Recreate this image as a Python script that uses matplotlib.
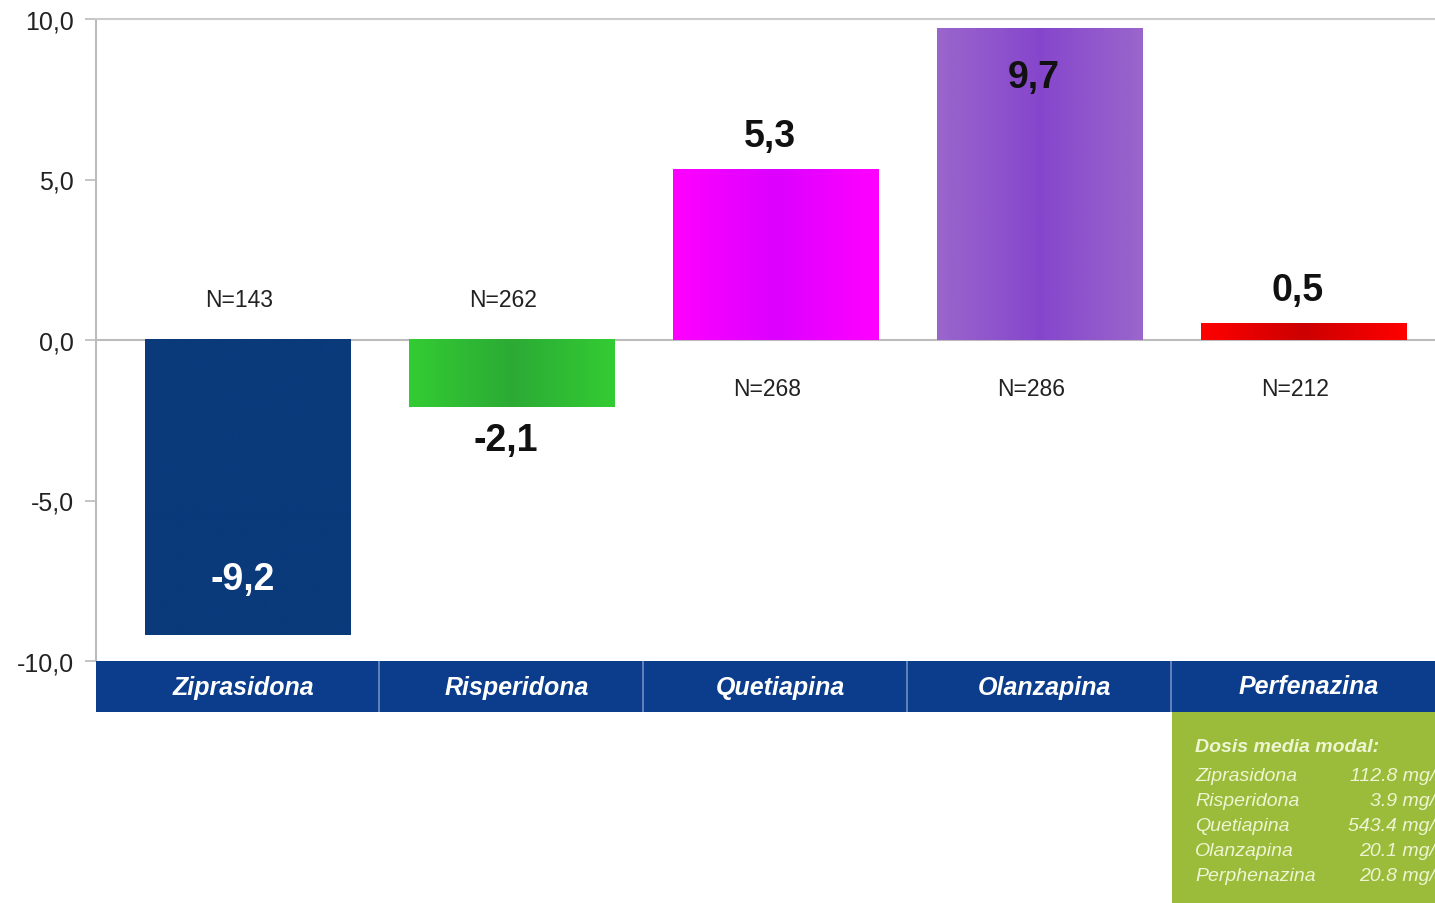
import numpy as np
import matplotlib
matplotlib.use('Agg')
import matplotlib.pyplot as plt
from matplotlib.colors import LinearSegmentedColormap
from matplotlib.patches import Rectangle

plt.rcParams['font.family'] = ['Liberation Sans', 'DejaVu Sans']

# cambio medio de peso por fármaco
farmacos = ['Ziprasidona', 'Risperidona', 'Quetiapina', 'Olanzapina', 'Perfenazina']
valores = [-9.2, -2.1, 5.3, 9.7, 0.5]
n_pacientes = [143, 262, 268, 286, 212]
etiquetas = ['-9,2', '-2,1', '5,3', '9,7', '0,5']

# dosis media modal (texto del recuadro)
dosis_farmacos = ['Ziprasidona', 'Risperidona', 'Quetiapina', 'Olanzapina', 'Perphenazina']
dosis_valores = ['112.8 mg/d', '3.9 mg/d', '543.4 mg/d', '20.1 mg/d', '20.8 mg/d']

y_ticks = [-10, -5, 0, 5, 10]
y_tick_labels = ['-10,0', '-5,0', '0,0', '5,0', '10,0']

# colores: (borde, centro) para el degradado horizontal
colores = [('#0a3a7a', '#0a3a7a'),
           ('#33cc33', '#2caa35'),
           ('#ff00ff', '#dc00ff'),
           ('#9a66cc', '#8646cc'),
           ('#ff0000', '#cc0000')]

W, H = 1435, 904
fig = plt.figure(figsize=(W / 100, H / 100), dpi=100)
fig.patch.set_facecolor('white')

# ejes: izquierda en x=96, arriba y=20, abajo y=662 (pixeles)
ax = fig.add_axes([96 / W, 1 - 662 / H, (W - 96) / W, (662 - 20) / H])
ax.set_xlim(-0.574, 4.5)
ax.set_ylim(-10, 10)

ancho = 0.777
x = np.arange(len(farmacos))
barras = ax.bar(x, valores, width=ancho, color='none', edgecolor='none', zorder=3)

for i, (b, (c_borde, c_centro)) in enumerate(zip(barras, colores)):
    cmap = LinearSegmentedColormap.from_list('g%d' % i, [c_borde, c_centro, c_borde])
    grad = np.linspace(0, 1, 256).reshape(1, -1)
    x0 = b.get_x()
    y0, y1 = sorted([0, b.get_height()])
    ax.imshow(grad, cmap=cmap, aspect='auto', extent=(x0, x0 + b.get_width(), y0, y1),
              zorder=3, interpolation='bicubic')

# etiquetas de valor
pos_valor = [v + 1.75 if v < -5 else (v - 1.5 if v > 8 else (v + 1.05 if v > 0 else v - 1.0))
             for v in valores]
for i, (v, t, p) in enumerate(zip(valores, etiquetas, pos_valor)):
    color = 'white' if v < -5 else '#111111'
    ax.text(x[i] - 0.02, p, t, ha='center', va='center', fontsize=27, fontweight='bold',
            color=color, zorder=5)

# etiquetas N
for i, (v, n) in enumerate(zip(valores, n_pacientes)):
    p = 1.25 if v < 0 else -1.5
    ax.text(x[i] - 0.03, p, 'N=%d' % n, ha='center', va='center', fontsize=16.5,
            color='#222222', zorder=5)

ax.axhline(0, color='#bbbbbb', lw=1.5, zorder=2)
for s in ['right', 'bottom']:
    ax.spines[s].set_visible(False)
ax.spines['left'].set_color('#bbbbbb')
ax.spines['left'].set_linewidth(1.5)
ax.spines['top'].set_color('#cccccc')
ax.spines['top'].set_linewidth(1.5)

ax.set_yticks(y_ticks)
ax.set_yticklabels(y_tick_labels, fontsize=18, color='#222222')
ax.tick_params(axis='y', length=8, width=1.2, color='#bbbbbb', pad=8)
ax.set_xticks([])

# banda azul con los nombres de los fármacos
banda = fig.add_axes([96 / W, 1 - 713 / H, (W - 96) / W, 51 / H])
banda.set_xlim(ax.get_xlim())
banda.set_ylim(0, 1)
banda.set_facecolor('#0b3d8c')
for s in banda.spines.values():
    s.set_visible(False)
banda.set_xticks([])
banda.set_yticks([])
limites = [ax.get_xlim()[0]] + [i + 0.5 for i in range(len(farmacos) - 1)] + [ax.get_xlim()[1]]
for i in range(len(farmacos) - 1):
    banda.axvline(limites[i + 1], color='#6f8fc4', lw=1.2)
for i, f in enumerate(farmacos):
    cx = (limites[i] + limites[i + 1]) / 2 + 0.02
    banda.text(cx, 0.5, f, ha='center', va='center', fontsize=18, fontweight='bold',
               fontstyle='italic', color='white')

# recuadro verde con la dosis media modal
fig.patches.append(Rectangle((1172 / W, 0), (W - 1172) / W, (904 - 713) / H,
                             transform=fig.transFigure, facecolor='#9bbb3b',
                             edgecolor='none', zorder=1))
col_texto = '#eef5d2'
fig.text(1195 / W, 1 - 747 / H, 'Dosis media modal:', ha='left', va='center',
         fontsize=14, fontweight='bold', fontstyle='italic', color=col_texto)
for j, (f, d) in enumerate(zip(dosis_farmacos, dosis_valores)):
    yy = 1 - (777 + 25 * j) / H
    fig.text(1195 / W, yy, f, ha='left', va='center', fontsize=14,
             fontstyle='italic', color=col_texto)
    fig.text(1446 / W, yy, d, ha='right', va='center', fontsize=14,
             fontstyle='italic', color=col_texto)

fig.savefig('out.png', dpi=100)
